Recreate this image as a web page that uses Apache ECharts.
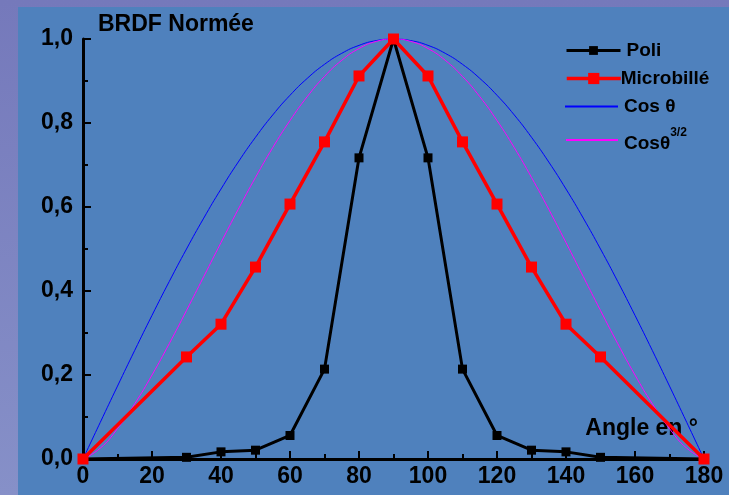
<!DOCTYPE html>
<html>
<head>
<meta charset="utf-8">
<script src="https://cdn.jsdelivr.net/npm/echarts@6/dist/echarts.min.js"></script>
<style>
  html, body { margin: 0; padding: 0; }
  #chart { width: 729px; height: 495px; }
</style>
</head>
<body>
<div id="chart"></div>
<script>
// Scattering angle (degrees) and normalised BRDF values
const poliAngles = [0, 30, 40, 50, 60, 70, 80, 90, 100, 110, 120, 130, 140, 150, 180];
const poliValues = [0, 0.004, 0.017, 0.021, 0.056, 0.214, 0.717, 1.0, 0.717, 0.214, 0.056, 0.021, 0.017, 0.004, 0];

const microAngles = [0, 30, 40, 50, 60, 70, 80, 90, 100, 110, 120, 130, 140, 150, 180];
const microValues = [0, 0.243, 0.321, 0.457, 0.607, 0.755, 0.912, 1.0, 0.912, 0.755, 0.607, 0.457, 0.321, 0.243, 0];

// Reference lobes sampled every 5 degrees
const lobeAngles = [0, 5, 10, 15, 20, 25, 30, 35, 40, 45, 50, 55, 60, 65, 70, 75, 80, 85, 90,
                    95, 100, 105, 110, 115, 120, 125, 130, 135, 140, 145, 150, 155, 160, 165, 170, 175, 180];
const cosValues = [0, 0.0872, 0.1736, 0.2588, 0.3420, 0.4226, 0.5, 0.5736, 0.6428, 0.7071, 0.7660, 0.8192, 0.8660, 0.9063, 0.9397, 0.9659, 0.9848, 0.9962, 1,
                   0.9962, 0.9848, 0.9659, 0.9397, 0.9063, 0.8660, 0.8192, 0.7660, 0.7071, 0.6428, 0.5736, 0.5, 0.4226, 0.3420, 0.2588, 0.1736, 0.0872, 0];
const cos32Values = [0, 0.0258, 0.0723, 0.1317, 0.2000, 0.2747, 0.3536, 0.4344, 0.5153, 0.5946, 0.6704, 0.7415, 0.8059, 0.8628, 0.9109, 0.9493, 0.9773, 0.9943, 1,
                     0.9943, 0.9773, 0.9493, 0.9109, 0.8628, 0.8059, 0.7415, 0.6704, 0.5946, 0.5153, 0.4344, 0.3536, 0.2747, 0.2000, 0.1317, 0.0723, 0.0258, 0];

const xTicks = [0, 20, 40, 60, 80, 100, 120, 140, 160, 180];
const yTicks = [0, 0.2, 0.4, 0.6, 0.8, 1.0];

const zip = (xs, ys) => xs.map((x, i) => [x, ys[i]]);

const FONT = "'Liberation Sans', Arial, sans-serif";
const axisLabelStyle = { color: '#000', fontFamily: FONT, fontWeight: 'bold', fontSize: 23 };
const legendText = { color: '#000', fontFamily: FONT, fontWeight: 'bold', fontSize: 19 };

const chart = echarts.init(document.getElementById('chart'));

chart.setOption({
  animation: false,
  backgroundColor: {
    type: 'linear', x: 0, y: 0, x2: 0, y2: 1,
    colorStops: [{ offset: 0, color: '#7579bb' }, { offset: 1, color: '#8690c8' }]
  },
  graphic: [{
    type: 'rect', z: -10, silent: true,
    shape: { x: 18, y: 7, width: 711, height: 488 },
    style: { fill: '#4f81bd' }
  }],
  grid: { left: 83, right: 25, top: 39, bottom: 36 },
  xAxis: {
    type: 'value', min: 0, max: 180, interval: 20,
    name: 'Angle en °', nameLocation: 'end', nameGap: -6,
    nameTextStyle: { color: '#000', fontFamily: FONT, fontWeight: 'bold', fontSize: 23,
                     align: 'right', verticalAlign: 'bottom', padding: [0, 0, 19, 0] },
    axisLine: { lineStyle: { color: '#000', width: 3 } },
    axisTick: { inside: true, length: 8, lineStyle: { color: '#000', width: 2 } },
    minorTick: { show: true, splitNumber: 2, length: 5, lineStyle: { color: '#000', width: 2 } },
    splitLine: { show: false },
    axisLabel: Object.assign({ margin: 6, customValues: xTicks }, axisLabelStyle)
  },
  yAxis: {
    type: 'value', min: 0, max: 1, interval: 0.2,
    name: 'BRDF Normée', nameLocation: 'end', nameGap: 3,
    nameTextStyle: { color: '#000', fontFamily: FONT, fontWeight: 'bold', fontSize: 23,
                     align: 'left', verticalAlign: 'bottom', padding: [0, 0, 0, 15] },
    axisLine: { show: true, lineStyle: { color: '#000', width: 3 } },
    axisTick: { show: true, inside: true, length: 8, lineStyle: { color: '#000', width: 2 } },
    minorTick: { show: true, splitNumber: 2, length: 5, lineStyle: { color: '#000', width: 2 } },
    splitLine: { show: false },
    axisLabel: Object.assign({
      margin: 10,
      formatter: v => v.toFixed(1).replace('.', ',')
    }, axisLabelStyle)
  },
  legend: [
    { data: ['Poli'], left: 565, top: 41, padding: 0, itemWidth: 54, itemHeight: 11,
      lineStyle: { width: 3 },
      textStyle: Object.assign({ padding: [0, 0, 0, 1] }, legendText) },
    { data: ['Microbillé'], left: 565, top: 69, padding: 0, itemWidth: 54, itemHeight: 14,
      lineStyle: { width: 3.5 },
      textStyle: Object.assign({ padding: [0, 0, 0, -5] }, legendText) },
    { data: [{ name: 'Cos θ', icon: 'rect' }], left: 565, top: 97, padding: 0, itemWidth: 53, itemHeight: 2,
      textStyle: Object.assign({ padding: [0, 0, 0, 1] }, legendText) },
    { data: [{ name: 'Cosθ^3/2', icon: 'rect' }], left: 566, top: 127, padding: 0, itemWidth: 52, itemHeight: 2,
      formatter: () => '{a|Cosθ}{s|3/2}',
      textStyle: Object.assign({
        padding: [0, 0, 0, 1],
        rich: {
          a: Object.assign({}, legendText, { lineHeight: 26, verticalAlign: 'bottom' }),
          s: { color: '#000', fontFamily: FONT, fontWeight: 'bold', fontSize: 12, lineHeight: 26, verticalAlign: 'top' }
        }
      }, legendText) }
  ],
  series: [
    {
      name: 'Cos θ', type: 'line', smooth: true, symbol: 'none',
      data: zip(lobeAngles, cosValues),
      itemStyle: { color: '#0000ff' },
      lineStyle: { color: '#0000ff', width: 1 }
    },
    {
      name: 'Cosθ^3/2', type: 'line', smooth: true, symbol: 'none',
      data: zip(lobeAngles, cos32Values),
      itemStyle: { color: '#ff00ff' },
      lineStyle: { color: '#ff00ff', width: 1 }
    },
    {
      name: 'Poli', type: 'line', symbol: 'rect', symbolSize: 9,
      data: zip(poliAngles, poliValues),
      itemStyle: { color: '#000' },
      lineStyle: { color: '#000', width: 3 }
    },
    {
      name: 'Microbillé', type: 'line', symbol: 'rect', symbolSize: 11,
      data: zip(microAngles, microValues),
      itemStyle: { color: '#ff0000' },
      lineStyle: { color: '#ff0000', width: 3.5 }
    }
  ]
});
</script>
</body>
</html>
